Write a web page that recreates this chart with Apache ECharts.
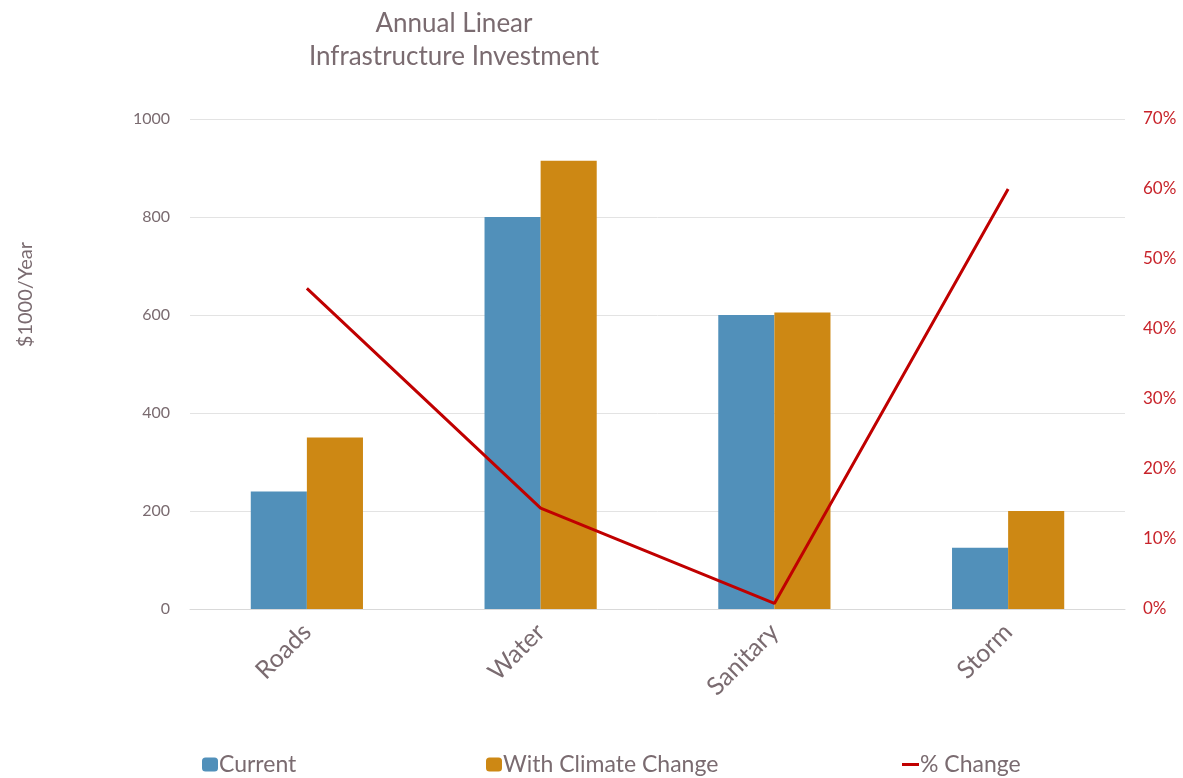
<!DOCTYPE html>
<html>
<head>
<meta charset="utf-8">
<script src="https://cdn.jsdelivr.net/npm/echarts@6/dist/echarts.min.js"></script>
<style>
  html, body { margin: 0; padding: 0; background: #fff; }
  #chart { width: 1183px; height: 778px; }
</style>
</head>
<body>
<div id="chart"></div>
<script>
// Categories and values ($1000/year)
const categories = ['Roads', 'Water', 'Sanitary', 'Storm'];
const currentValues = [240, 800, 600, 125];
const climateValues = [350, 915, 605, 200];
// Percentage increase (fraction)
const pctChange = [0.458, 0.144, 0.008, 0.60];
const leftTicks = { min: 0, max: 1000, interval: 200 };
const rightTicks = { min: 0, max: 0.7, interval: 0.1 };

const FONT = 'Lato, "Open Sans", sans-serif';
const TEXT = '#7a6b70';
const RED = '#C00000';
const BLUE = '#5190BA';
const ORANGE = '#CD8814';

const chart = echarts.init(document.getElementById('chart'));
chart.setOption({
  animation: false,
  textStyle: { fontFamily: FONT, color: TEXT },
  title: {
    text: 'Annual Linear\nInfrastructure Investment',
    left: 449,
    textAlign: 'center',
    top: 2,
    textStyle: { fontFamily: FONT, fontSize: 26, fontWeight: 'normal', color: TEXT, lineHeight: 33, align: 'center' }
  },
  graphic: [{
    type: 'text',
    left: 16,
    top: 242,
    rotation: Math.PI / 2,
    style: { text: '$1000/Year', font: '20px ' + FONT, fill: TEXT }
  }],
  grid: { left: 190, right: 58, top: 119, bottom: 169 },
  legend: [
    { data: ['Current'], left: 197, top: 748, itemWidth: 16, itemHeight: 14,
      textStyle: { fontSize: 23, color: TEXT, fontFamily: FONT, padding: [0, 0, 0, -4] } },
    { data: ['With Climate Change'], left: 481, top: 748, itemWidth: 16, itemHeight: 14,
      textStyle: { fontSize: 23, color: TEXT, fontFamily: FONT, padding: [0, 0, 0, -4] } },
    { data: [{ name: '% Change', icon: 'rect' }], left: 897, top: 748, itemWidth: 17, itemHeight: 3,
      textStyle: { fontSize: 23, color: TEXT, fontFamily: FONT, padding: [0, 0, 0, -4] } }
  ],
  xAxis: {
    type: 'category',
    data: categories,
    axisLine: { lineStyle: { color: '#d9d9d9', width: 1 } },
    axisTick: { show: false },
    axisLabel: { rotate: 45, fontSize: 25, color: TEXT, fontFamily: FONT, margin: 19 }
  },
  yAxis: [
    {
      type: 'value', min: leftTicks.min, max: leftTicks.max, interval: leftTicks.interval,
      axisLine: { show: false }, axisTick: { show: false },
      splitLine: { lineStyle: { color: '#e3e3e3' } },
      axisLabel: { fontSize: 16, color: TEXT, fontFamily: FONT, margin: 20, formatter: v => String(v) }
    },
    {
      type: 'value', min: rightTicks.min, max: rightTicks.max, interval: rightTicks.interval,
      axisLine: { show: false }, axisTick: { show: false },
      splitLine: { show: false },
      axisLabel: { fontSize: 17, color: '#C8232A', fontFamily: FONT, margin: 18,
        formatter: v => Math.round(v * 100) + '%' }
    }
  ],
  series: [
    { name: 'Current', type: 'bar', data: currentValues, barGap: '0%', barCategoryGap: '52%',
      itemStyle: { color: BLUE } },
    { name: 'With Climate Change', type: 'bar', data: climateValues,
      itemStyle: { color: ORANGE } },
    { name: '% Change', type: 'line', yAxisIndex: 1, data: pctChange, symbol: 'none',
      lineStyle: { color: RED, width: 3 }, itemStyle: { color: RED } }
  ]
});
</script>
</body>
</html>
